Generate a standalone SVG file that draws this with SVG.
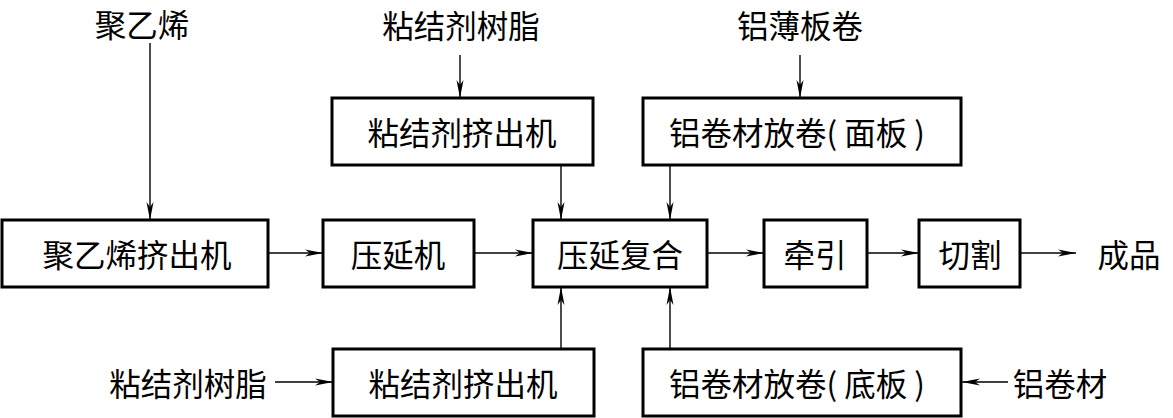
<svg xmlns="http://www.w3.org/2000/svg" width="1173" height="418" viewBox="0 0 1173 418">
<style>
.box{fill:#fff;stroke:#000;stroke-width:3}
.t{font-family:"Noto Sans CJK SC","Noto Sans CJK JP",sans-serif;font-size:31.5px;fill:#000;text-anchor:middle;dominant-baseline:central}
.c{stroke:#000;stroke-width:1.4;fill:none;marker-end:url(#ah)}
</style>
<defs>
<marker id="ah" viewBox="0 -4 18 8" refX="18" refY="0" markerWidth="18" markerHeight="8" markerUnits="userSpaceOnUse" orient="auto">
<path d="M0,-3.5 L18,0 L0,3.5 L5,0 z" fill="#000"/>
</marker>
</defs>
<rect width="1173" height="418" fill="#fff"/>
<g id="connectors">
<line class="c" x1="150" y1="43" x2="150" y2="220"/>
<line class="c" x1="460" y1="55" x2="460" y2="98"/>
<line class="c" x1="800" y1="55" x2="800" y2="98"/>
<line class="c" x1="561" y1="165" x2="561" y2="220"/>
<line class="c" x1="670" y1="165" x2="670" y2="220"/>
<line class="c" x1="561" y1="349" x2="561" y2="287"/>
<line class="c" x1="670" y1="349" x2="670" y2="287"/>
<line class="c" x1="268" y1="253" x2="323" y2="253"/>
<line class="c" x1="474" y1="253" x2="533" y2="253"/>
<line class="c" x1="707" y1="253" x2="764" y2="253"/>
<line class="c" x1="867" y1="253" x2="919" y2="253"/>
<line class="c" x1="1020" y1="253" x2="1076" y2="253"/>
<line class="c" x1="275" y1="382" x2="333" y2="382"/>
<line class="c" x1="1008" y1="382" x2="962" y2="382"/>
</g>
<g id="label-pe"><text class="t" x="142" y="23">聚乙烯</text></g>
<g id="label-resin-top"><text class="t" x="461" y="24">粘结剂树脂</text></g>
<g id="label-al-sheet"><text class="t" x="800" y="24">铝薄板卷</text></g>
<g id="node-pe-extruder"><rect class="box" x="2" y="220" width="266" height="67"/><text class="t" x="137" y="253">聚乙烯挤出机</text></g>
<g id="node-calender"><rect class="box" x="323" y="220" width="151" height="67"/><text class="t" x="398" y="253">压延机</text></g>
<g id="node-laminate"><rect class="box" x="533" y="220" width="174" height="67"/><text class="t" x="620" y="253">压延复合</text></g>
<g id="node-haul"><rect class="box" x="764" y="220" width="103" height="67"/><text class="t" x="815" y="253">牵引</text></g>
<g id="node-cut"><rect class="box" x="919" y="220" width="101" height="67"/><text class="t" x="970" y="253">切割</text></g>
<g id="label-product"><text class="t" x="1129" y="253">成品</text></g>
<g id="node-adh-top"><rect class="box" x="332" y="98" width="261" height="67"/><text class="t" x="462" y="131">粘结剂挤出机</text></g>
<g id="node-al-face"><rect class="box" x="643" y="98" width="318" height="67"/><text class="t" x="797" y="131">铝卷材放卷( 面板 )</text></g>
<g id="node-adh-bottom"><rect class="box" x="333" y="349" width="261" height="67"/><text class="t" x="463" y="382">粘结剂挤出机</text></g>
<g id="node-al-base"><rect class="box" x="643" y="349" width="318" height="67"/><text class="t" x="797" y="382">铝卷材放卷( 底板 )</text></g>
<g id="label-resin-bottom"><text class="t" x="188" y="382">粘结剂树脂</text></g>
<g id="label-al-coil"><text class="t" x="1060" y="382">铝卷材</text></g>
</svg>
